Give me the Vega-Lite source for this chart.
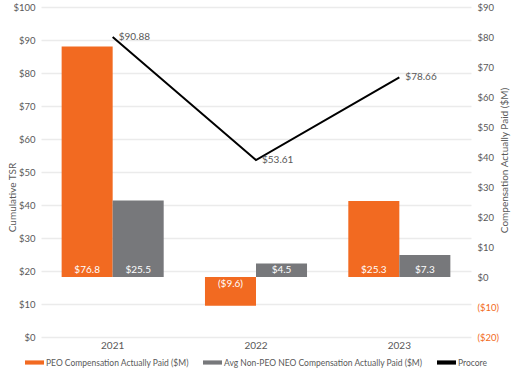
{
  "$schema": "https://vega.github.io/schema/vega-lite/v6.json",
  "width": 430,
  "height": 330,
  "autosize": {"type": "none"},
  "padding": {"left": 41, "top": 7, "right": 44, "bottom": 31},
  "background": "white",
  "config": {
    "view": {"stroke": null},
    "font": "Lato",
    "axis": {"labelColor": "#595959", "titleColor": "#595959", "labelFont": "Lato", "titleFont": "Lato", "titleFontWeight": "normal", "labelFontSize": 9.5, "titleFontSize": 10, "domain": false, "ticks": false, "labelOverlap": false}
  },
  "datasets": {
    "comp": [
      {"year": "2021", "series": "PEO Compensation Actually Paid ($M)", "value": 76.8, "label": "$76.8"},
      {"year": "2021", "series": "Avg Non-PEO NEO Compensation Actually Paid ($M)", "value": 25.5, "label": "$25.5"},
      {"year": "2022", "series": "PEO Compensation Actually Paid ($M)", "value": -9.6, "label": "($9.6)"},
      {"year": "2022", "series": "Avg Non-PEO NEO Compensation Actually Paid ($M)", "value": 4.5, "label": "$4.5"},
      {"year": "2023", "series": "PEO Compensation Actually Paid ($M)", "value": 25.3, "label": "$25.3"},
      {"year": "2023", "series": "Avg Non-PEO NEO Compensation Actually Paid ($M)", "value": 7.3, "label": "$7.3"}
    ],
    "tsr": [
      {"year": "2021", "series": "Procore", "tsr": 90.88, "label": "$90.88"},
      {"year": "2022", "series": "Procore", "tsr": 53.61, "label": "$53.61"},
      {"year": "2023", "series": "Procore", "tsr": 78.66, "label": "$78.66"}
    ]
  },
  "encoding": {
    "x": {"field": "year", "type": "nominal", "scale": {"paddingInner": 0.288, "paddingOuter": 0.144},
      "axis": {"title": null, "labelAngle": 0, "grid": false, "labelPadding": 3, "labelFontSize": 10}}
  },
  "layer": [
    {
      "data": {"name": "tsr"},
      "encoding": {
        "y": {"field": "tsr", "type": "quantitative", "scale": {"domain": [0, 100], "nice": false},
          "axis": {"orient": "left", "title": "Cumulative TSR", "values": [0,10,20,30,40,50,60,70,80,90,100], "labelExpr": "'$' + datum.value", "grid": true, "gridColor": "#EBEBEB", "gridWidth": 1.3, "labelPadding": 6,
            "titleX": -29, "titleY": 190, "titleAngle": 270, "titleAlign": "center", "titleBaseline": "middle"}}
      },
      "layer": [
        {
          "mark": {"type": "line", "strokeWidth": 2},
          "encoding": {
            "color": {"field": "series", "type": "nominal",
              "scale": {"domain": ["PEO Compensation Actually Paid ($M)", "Avg Non-PEO NEO Compensation Actually Paid ($M)", "Procore"], "range": ["#F26A21", "#77787B", "#000000"]}}
          }
        },
        {
          "mark": {"type": "text", "align": "left", "baseline": "middle", "dx": 6, "dy": 0, "fontSize": 10, "fill": "#595959"},
          "encoding": {
            "text": {"field": "label"}
          }
        }
      ]
    },
    {
      "data": {"name": "comp"},
      "encoding": {
        "xOffset": {"field": "series", "type": "nominal", "scale": {"domain": ["PEO Compensation Actually Paid ($M)", "Avg Non-PEO NEO Compensation Actually Paid ($M)"]}}
      },
      "layer": [
        {
          "mark": {"type": "bar"},
          "encoding": {
            "y": {"field": "value", "type": "quantitative", "scale": {"domain": [-20, 90], "nice": false, "zero": false},
              "axis": {"orient": "right", "title": "Compensation Actually Paid ($M)", "grid": false, "values": [-20,-10,0,10,20,30,40,50,60,70,80,90],
                "labelExpr": "datum.value < 0 ? '($' + abs(datum.value) + ')' : '$' + datum.value",
                "labelColor": {"condition": {"test": "datum.value < 0", "value": "#F26A21"}, "value": "#595959"},
                "labelPadding": 6, "titleX": 33, "titleY": 153, "titleAngle": 270, "titleAlign": "center", "titleBaseline": "middle"}},
            "color": {"field": "series", "type": "nominal",
              "scale": {"domain": ["PEO Compensation Actually Paid ($M)", "Avg Non-PEO NEO Compensation Actually Paid ($M)", "Procore"], "range": ["#F26A21", "#77787B", "#000000"]},
              "legend": {"orient": "none", "legendX": -16, "legendY": 346, "direction": "horizontal", "title": null,
                "symbolType": "M-1,-0.22H1V0.22H-1Z", "symbolSize": 361, "symbolStrokeWidth": 0,
                "labelFontSize": 8.5, "labelLimit": 400, "labelColor": "#595959", "columnPadding": 14, "labelOffset": 2}}
          }
        },
        {
          "transform": [{"filter": "datum.value >= 0"}],
          "mark": {"type": "text", "baseline": "bottom", "dy": -2, "fontSize": 10, "fill": "white"},
          "encoding": {
            "y": {"datum": 0, "type": "quantitative",
              "axis": {"orient": "right", "title": "Compensation Actually Paid ($M)", "grid": false, "values": [-20,-10,0,10,20,30,40,50,60,70,80,90],
                "labelExpr": "datum.value < 0 ? '($' + abs(datum.value) + ')' : '$' + datum.value",
                "labelColor": {"condition": {"test": "datum.value < 0", "value": "#F26A21"}, "value": "#595959"},
                "labelPadding": 6, "titleX": 33, "titleY": 153, "titleAngle": 270, "titleAlign": "center", "titleBaseline": "middle"}},
            "text": {"field": "label"}
          }
        },
        {
          "transform": [{"filter": "datum.value < 0"}],
          "mark": {"type": "text", "baseline": "top", "dy": 2, "fontSize": 10, "fill": "white"},
          "encoding": {
            "y": {"datum": 0, "type": "quantitative",
              "axis": {"orient": "right", "title": "Compensation Actually Paid ($M)", "grid": false, "values": [-20,-10,0,10,20,30,40,50,60,70,80,90],
                "labelExpr": "datum.value < 0 ? '($' + abs(datum.value) + ')' : '$' + datum.value",
                "labelColor": {"condition": {"test": "datum.value < 0", "value": "#F26A21"}, "value": "#595959"},
                "labelPadding": 6, "titleX": 33, "titleY": 153, "titleAngle": 270, "titleAlign": "center", "titleBaseline": "middle"}},
            "text": {"field": "label"}
          }
        }
      ]
    }
  ],
  "resolve": {"scale": {"y": "independent"}}
}
